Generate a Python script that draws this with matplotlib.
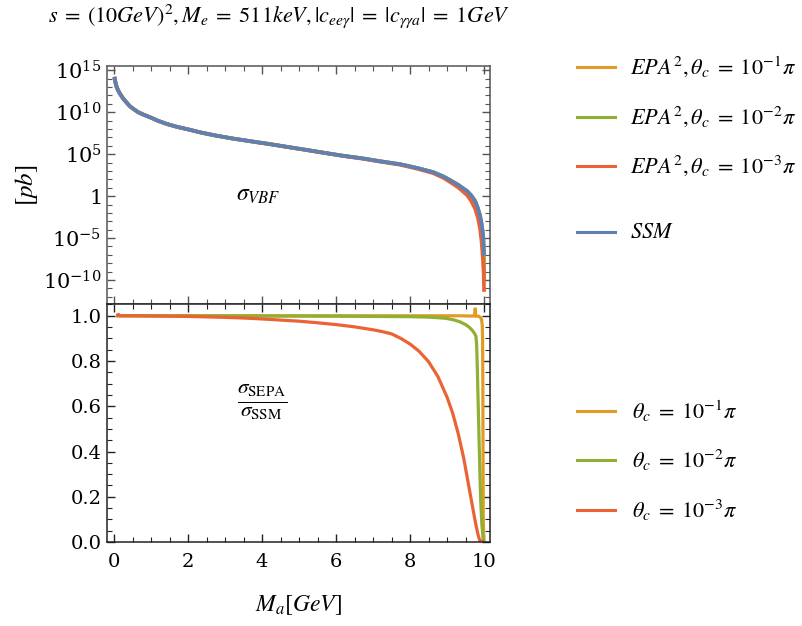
import numpy as np
import matplotlib
matplotlib.use("Agg")
import matplotlib.pyplot as plt
from matplotlib.ticker import FixedLocator, FixedFormatter, MultipleLocator
from matplotlib.lines import Line2D

plt.rcParams['font.family'] = ['DejaVu Serif']
plt.rcParams['mathtext.fontset'] = 'stix'

# ---------------- data ----------------
# upper panel: sigma_VBF [pb]
m_top = [0.01, 0.04, 0.07, 0.11, 0.16, 0.25, 0.34, 0.43, 0.52, 0.65, 0.8, 0.97, 1.2, 1.42, 1.7,
         2.0, 2.32, 2.7, 3.22, 3.68, 4.2, 4.7, 5.2, 5.7, 6.2, 6.7, 7.2, 7.73, 8.2, 8.62, 8.9,
         9.08, 9.3, 9.54, 9.65, 9.76, 9.83, 9.89, 9.93, 9.97, 9.99, 10.0]
sig_ssm = [1.6e14, 3.2e13, 1.0e13, 4.0e12, 1.6e12, 4.0e11, 1.4e11, 5.0e10, 2.5e10, 1.0e10, 5.0e9,
           2.5e9, 9.0e8, 4.0e8, 1.8e8, 9.0e7, 4.0e7, 1.8e7, 7.1e6, 3.5e6, 1.6e6, 7.1e5, 3.2e5,
           1.4e5, 6.3e4, 3.2e4, 1.4e4, 6.3e3, 2.2e3, 7.2e2, 2.2e2, 80.0, 22.0, 4.0, 1.26, 0.25,
           0.04, 5.0e-3, 6.3e-4, 3.2e-5, 1.6e-6, 8.0e-8]
sig_epa1 = [1.6e14, 3.2e13, 1.0e13, 4.0e12, 1.6e12, 4.0e11, 1.4e11, 5.0e10, 2.5e10, 1.0e10, 5.0e9,
            2.5e9, 9.0e8, 4.0e8, 1.8e8, 9.0e7, 4.0e7, 1.8e7, 7.1e6, 3.5e6, 1.6e6, 7.1e5, 3.2e5,
            1.4e5, 6.3e4, 3.2e4, 1.4e4, 6.3e3, 2.2e3, 7.2e2, 2.2e2, 80.0, 22.0, 4.0, 1.26, 0.25,
            0.04, 5.0e-3, 6.0e-4, 3.0e-5, 1.0e-6, 3.0e-10]
sig_epa2 = [1.6e14, 3.2e13, 1.0e13, 4.0e12, 1.6e12, 4.0e11, 1.4e11, 5.0e10, 2.5e10, 1.0e10, 5.0e9,
            2.5e9, 9.0e8, 4.0e8, 1.8e8, 9.0e7, 4.0e7, 1.8e7, 7.1e6, 3.5e6, 1.6e6, 7.1e5, 3.2e5,
            1.4e5, 6.3e4, 3.2e4, 1.4e4, 6.3e3, 2.2e3, 7.1e2, 2.2e2, 79.0, 21.0, 3.8, 1.2, 0.23,
            0.03, 3.0e-3, 2.0e-4, 5.0e-6, 1.0e-7, 1.0e-10]
sig_epa3 = [1.6e14, 3.2e13, 1.0e13, 4.0e12, 1.6e12, 4.0e11, 1.4e11, 5.0e10, 2.5e10, 1.0e10, 5.0e9,
            2.5e9, 9.0e8, 4.0e8, 1.8e8, 9.0e7, 4.0e7, 1.8e7, 7.0e6, 3.45e6, 1.57e6, 6.9e5, 3.1e5,
            1.35e5, 6.0e4, 2.95e4, 1.27e4, 5.5e3, 1.8e3, 5.5e2, 1.5e2, 48.0, 11.0, 1.3, 0.28, 0.03,
            3.0e-3, 1.5e-4, 5.0e-6, 3.0e-8, 5.0e-10, 4.0e-12]

# lower panel: ratio sigma_SEPA / sigma_SSM
m_r1 = [0.1, 1.0, 3.0, 5.0, 7.0, 8.5, 9.3, 9.6, 9.75, 9.752, 9.768, 9.77, 9.85, 9.9, 9.93, 9.95,
        9.96, 9.967, 9.972, 9.978, 9.99]
r1 = [1.0, 1.0, 1.0, 1.0, 1.0, 1.0, 1.0, 0.999, 0.999, 1.03, 1.03, 0.999, 0.998, 0.993, 0.985,
      0.96, 0.9, 0.7, 0.4, 0.12, 0.005]

m_r2 = [0.1, 2.0, 4.0, 6.0, 8.0, 8.5, 8.8, 9.0, 9.2, 9.35, 9.5, 9.6, 9.68, 9.74, 9.78, 9.8,
        9.82, 9.85, 9.88, 9.91, 9.94, 9.97, 9.99]
r2 = [1.0, 1.0, 0.999, 0.998, 0.996, 0.994, 0.991, 0.988, 0.981, 0.973, 0.961, 0.949, 0.936,
      0.922, 0.91, 0.87, 0.75, 0.55, 0.35, 0.18, 0.08, 0.02, 0.0]

m_r3 = [0.1, 0.12, 0.15, 0.5, 1.0, 1.5, 2.0, 2.5, 3.0, 3.5, 4.0, 4.5, 5.0, 5.5, 6.0, 6.5, 7.0,
        7.25, 7.5, 7.75, 8.0, 8.25, 8.5, 8.75, 9.0, 9.15, 9.3, 9.45, 9.6, 9.7, 9.78, 9.84, 9.88,
        9.92, 9.95]
r3 = [1.004, 1.006, 1.0, 1.0, 0.999, 0.998, 0.997, 0.995, 0.993, 0.99, 0.986, 0.981, 0.976,
      0.969, 0.961, 0.951, 0.938, 0.93, 0.92, 0.9, 0.875, 0.842, 0.797, 0.732, 0.64, 0.57,
      0.48, 0.37, 0.235, 0.145, 0.075, 0.03, 0.008, 0.0, 0.004]

top_labels = [r'$EPA^2, \theta_c\;=\;10^{-1}\pi$', r'$EPA^2, \theta_c\;=\;10^{-2}\pi$',
              r'$EPA^2, \theta_c\;=\;10^{-3}\pi$', r'$SSM$']
bot_labels = [r'$\theta_c\;=\;10^{-1}\pi$', r'$\theta_c\;=\;10^{-2}\pi$', r'$\theta_c\;=\;10^{-3}\pi$']
log_ticks = [1e15, 1e10, 1e5, 1, 1e-5, 1e-10]
log_tick_labels = [r'$\mathdefault{10^{15}}$', r'$\mathdefault{10^{10}}$', r'$\mathdefault{10^{5}}$',
                   r'$\mathdefault{1}$', r'$\mathdefault{10^{-5}}$', r'$\mathdefault{10^{-10}}$']

# ---------------- styling ----------------
C_OR = '#E19C24'
C_GR = '#8FB032'
C_RD = '#EB6235'
C_BL = '#5E81B5'

W, H = 803, 626
fig = plt.figure(figsize=(W / 100, H / 100), dpi=100)

def fx(px):
    return px / W

def fy(py):
    return 1 - py / H

L, R = 107, 490
ax1 = fig.add_axes([fx(L), fy(304), fx(R - L), (304 - 66) / H])
ax2 = fig.add_axes([fx(L), fy(542), fx(R - L), (542 - 304) / H])

lw_top = 2.7
ax1.plot(m_top, sig_epa1, color=C_OR, lw=lw_top, solid_capstyle='butt')
ax1.plot(m_top, sig_epa2, color=C_GR, lw=lw_top, solid_capstyle='butt')
ax1.plot(m_top, sig_epa3, color=C_RD, lw=lw_top, solid_capstyle='butt')
ax1.plot(m_top, sig_ssm, color=C_BL, lw=lw_top, solid_capstyle='butt')
ax1.set_yscale('log')
ax1.set_xlim(-0.19, 10.16)
ax1.set_ylim(10 ** -12.85, 10 ** 15.5)
ax1.yaxis.set_major_locator(FixedLocator(log_ticks))
ax1.yaxis.set_major_formatter(FixedFormatter(log_tick_labels))
ax1.yaxis.set_minor_locator(FixedLocator([10.0 ** k for k in range(-12, 16)]))
ax1.yaxis.set_minor_formatter(FixedFormatter([]))

lw_bot = 2.3
ax2.plot(m_r1, r1, color=C_OR, lw=lw_bot)
ax2.plot(m_r2, r2, color=C_GR, lw=lw_bot)
ax2.plot(m_r3, r3, color=C_RD, lw=lw_bot)
ax2.set_xlim(-0.19, 10.16)
ax2.set_ylim(0.0, 1.052)
ax2.yaxis.set_major_locator(MultipleLocator(0.2))
ax2.yaxis.set_minor_locator(MultipleLocator(0.05))
ax2.yaxis.set_major_formatter(plt.FuncFormatter(lambda v, p: f'{v:.1f}'))

for ax, fc in ((ax1, '#555555'), (ax2, '#222222')):
    ax.xaxis.set_major_locator(MultipleLocator(2))
    ax.xaxis.set_minor_locator(MultipleLocator(0.5))
    ax.tick_params(which='both', direction='in', top=True, right=True, color=fc)
    ax.tick_params(which='major', length=6, width=1.0, labelsize=14, pad=4)
    ax.tick_params(which='minor', length=3.5, width=0.8)
    for s in ax.spines.values():
        s.set_color(fc)
        s.set_linewidth(1.1)
ax1.tick_params(axis='x', labelbottom=False)
ax1.tick_params(axis='y', labelsize=15)
ax2.tick_params(axis='x', pad=8)

ax1.set_ylabel(r'$[pb]$', fontsize=18, labelpad=2)
ax2.set_xlabel(r'$M_a[GeV]$', fontsize=17, labelpad=16)

ax1.text(0.394, 0.458, r'$\sigma_{VBF}$', transform=ax1.transAxes, fontsize=17,
         ha='center', va='center')
ax2.text(0.405, 0.585, r'$\frac{\sigma_{\mathrm{SEPA}}}{\sigma_{\mathrm{SSM}}}$', transform=ax2.transAxes,
         fontsize=22, ha='center', va='center')

fig.text(fx(48), fy(16), r'$s\;=\;(10GeV)^2, M_e\;=\;511keV, |c_{ee\gamma}|\;=\;|c_{\gamma\gamma a}|\;=\;1GeV$',
         fontsize=16, ha='left', va='center')

# legends
for lab, col, py in zip(top_labels, [C_OR, C_GR, C_RD, C_BL], [67, 117, 166, 232]):
    fig.add_artist(Line2D([fx(577), fx(615)], [fy(py), fy(py)], color=col, lw=2.2,
                          transform=fig.transFigure))
    fig.text(fx(630), fy(py), lab, fontsize=16, ha='left', va='center')
for lab, col, py in zip(bot_labels, [C_OR, C_GR, C_RD], [411, 460, 510]):
    fig.add_artist(Line2D([fx(577), fx(615)], [fy(py), fy(py)], color=col, lw=2.2,
                          transform=fig.transFigure))
    fig.text(fx(632), fy(py), lab, fontsize=16, ha='left', va='center')

fig.savefig('out.png', dpi=100)
